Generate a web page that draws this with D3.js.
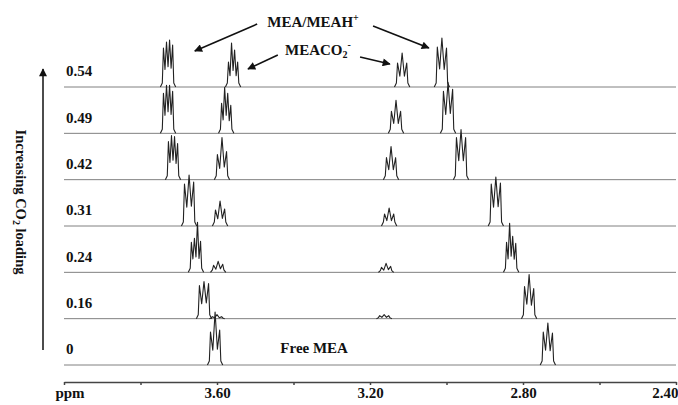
<!DOCTYPE html>
<html>
<head>
<meta charset="utf-8">
<script src="https://cdn.jsdelivr.net/npm/d3@7"></script>
<style>
  body { margin: 0; background: #fff; }
  svg { display: block; font-family: "Liberation Serif", "Times New Roman", serif; }
</style>
</head>
<body>
<div class="chart"></div>
<script>
var width = 678, height = 405;

// CO2 loading of each spectrum, top to bottom
var loadings = ['0.54', '0.49', '0.42', '0.31', '0.24', '0.16', '0'];

// multiplet centres (ppm) and line intensities, one entry per spectrum
var mea1Shift = [3.728, 3.728, 3.715, 3.673, 3.655, 3.634, 3.605];
var mea1Lines = [[39, 45, 47, 42], [40, 48, 48, 42], [38, 44, 43, 36], [42, 51, 44],
                 [30, 34, 50, 31], [33, 37, 35], [33, 53, 35]];
var carbAShift = [3.558, 3.576, 3.587, 3.592, 3.597, 3.600, null];
var carbALines = [[25, 44, 37, 25], [30, 46, 40, 28], [25, 42, 28], [16, 25, 17],
                  [7, 11, 8], [2, 4, 2], null];
var carbBShift = [3.116, 3.132, 3.145, 3.150, 3.158, 3.163, null];
var carbBLines = [[24, 34, 24], [22, 33, 22], [22, 33, 22], [12, 18, 12],
                  [5, 9, 6], [3, 4, 3], null];
var mea2Shift = [3.012, 2.996, 2.962, 2.871, 2.831, 2.784, 2.735];
var mea2Lines = [[40, 49, 39], [42, 51, 44], [42, 50, 42], [42, 49, 43],
                 [30, 49, 36, 29], [32, 44, 30], [33, 42, 32]];

var xTicks = [4.0, 3.8, 3.6, 3.4, 3.2, 3.0, 2.8, 2.6, 2.4];
var xLabels = [3.6, 3.2, 2.8, 2.4];

var multW = 0.024;   // width of a multiplet, ppm

var xScale = d3.scaleLinear().domain([4.0, 2.4]).range([64, 676]);
var yBase = d3.scalePoint().domain(loadings).range([87, 365]);
var yInt = d3.scaleLinear().domain([0, 60]).range([0, -60]);

var line = d3.line()
    .x(d => xScale(d[0]))
    .y(d => yInt(d[1]));

// turns a multiplet into a path: foot, spikes, valleys, foot
function multiplet(centre, hs) {
  var n = hs.length;
  var step = multW / (n - 1);
  var foot = Math.min(4, 0.35 * d3.min(hs));
  var left = centre + multW / 2;
  var pts = [[left + 0.008, 0], [left + 0.003, foot]];
  hs.forEach(function(h, i) {
    var p = left - i * step;
    pts.push([p, h]);
    if (i < n - 1) pts.push([p - step / 2, Math.max(foot, 0.45 * Math.min(h, hs[i + 1]))]);
  });
  var right = centre - multW / 2;
  pts.push([right - 0.003, foot], [right - 0.008, 0]);
  return pts;
}

var svg = d3.select('div.chart').append('svg')
    .attr('width', width)
    .attr('height', height);

var defs = svg.append('defs');
defs.append('marker')
    .attr('id', 'head')
    .attr('viewBox', '0 0 10 10')
    .attr('refX', 9).attr('refY', 5)
    .attr('markerUnits', 'userSpaceOnUse')
    .attr('markerWidth', 11).attr('markerHeight', 8)
    .attr('orient', 'auto')
  .append('path')
    .attr('d', 'M0,0L10,5L0,10Z')
    .attr('fill', '#111');

// spectra
var traces = svg.selectAll('g.trace')
    .data(loadings).enter().append('g')
    .attr('class', 'trace')
    .attr('transform', d => 'translate(0,' + yBase(d) + ')');

traces.append('path')
    .attr('d', line([[4.0, 0], [2.4, 0]]))
    .attr('fill', 'none')
    .attr('stroke', '#808080')
    .attr('stroke-width', 1);

traces.each(function(d, i) {
  var g = d3.select(this);
  var sets = [[mea1Shift, mea1Lines], [carbAShift, carbALines],
              [carbBShift, carbBLines], [mea2Shift, mea2Lines]];
  sets.forEach(function(s) {
    if (s[0][i] == null) return;
    g.append('path')
        .attr('d', line(multiplet(s[0][i], s[1][i])))
        .attr('fill', 'none')
        .attr('stroke', '#222')
        .attr('stroke-width', 1.1)
        .attr('stroke-linejoin', 'round');
  });
});

traces.append('text')
    .attr('x', 66)
    .attr('y', -16)
    .attr('dy', '0.35em')
    .attr('font-size', 15)
    .attr('font-weight', 'bold')
    .attr('fill', '#111')
    .text(d => d);

// x axis
var axis = svg.append('g')
    .attr('transform', 'translate(0,382)')
    .call(d3.axisBottom(xScale)
          .tickValues(xTicks)
          .tickSize(3)
          .tickSizeOuter(0)
          .tickPadding(2)
          .tickFormat(d => xLabels.indexOf(d) >= 0 ? d.toFixed(2) : ''));
axis.select('.domain').attr('stroke', '#444').attr('stroke-width', 1.5);
axis.selectAll('.tick line').attr('stroke', '#444').attr('stroke-width', 1.5);
axis.selectAll('.tick text')
    .attr('font-size', 15)
    .attr('font-weight', 'bold')
    .attr('font-family', '"Liberation Serif", serif')
    .attr('fill', '#111');
// last label sits flush with the right edge
axis.selectAll('.tick text')
    .filter(d => d === 2.4)
    .attr('text-anchor', 'end')
    .attr('x', 2);

svg.append('text')
    .attr('x', xScale(4.0) + 6)
    .attr('y', 398)
    .attr('text-anchor', 'middle')
    .attr('font-size', 15)
    .attr('font-weight', 'bold')
    .attr('fill', '#111')
    .text('ppm');

// loading arrow and title
svg.append('line')
    .attr('x1', 43).attr('x2', 43)
    .attr('y1', yBase('0') - 15)
    .attr('y2', yBase('0.54') - 18)
    .attr('stroke', '#111')
    .attr('stroke-width', 1.5)
    .attr('marker-end', 'url(#head)');

var yt = svg.append('text')
    .attr('transform', 'translate(16,' + (yBase('0.31') - 24) + ') rotate(90)')
    .attr('text-anchor', 'middle')
    .attr('font-size', 14.5)
    .attr('font-weight', 'bold')
    .attr('fill', '#111');
yt.append('tspan').text('Increasing CO');
yt.append('tspan').attr('font-size', 10).attr('dy', 3).text('2');
yt.append('tspan').attr('dy', -3).text(' loading');

// peak annotations, placed in ppm / intensity of the top spectrum
var top0 = yBase('0.54');
function ay(v) { return top0 + yInt(v); }

var t1 = svg.append('text')
    .attr('x', xScale(3.349)).attr('y', ay(60))
    .attr('text-anchor', 'middle')
    .attr('font-size', 15).attr('font-weight', 'bold').attr('fill', '#111');
t1.append('tspan').text('MEA/MEAH');
t1.append('tspan').attr('font-size', 10).attr('dy', -6).text('+');

var t2 = svg.append('text')
    .attr('x', xScale(3.336)).attr('y', ay(32))
    .attr('text-anchor', 'middle')
    .attr('font-size', 15).attr('font-weight', 'bold').attr('fill', '#111');
t2.append('tspan').text('MEACO');
t2.append('tspan').attr('font-size', 10).attr('dy', 3).text('2');
t2.append('tspan').attr('font-size', 10).attr('dy', -10).text('-');

var arrows = [
  [[3.495, 63], [3.658, 36]],
  [[3.192, 61], [3.046, 39]],
  [[3.441, 32], [3.519, 18]],
  [[3.226, 30], [3.148, 23]]
];
svg.selectAll('line.anno')
    .data(arrows).enter().append('line')
    .attr('class', 'anno')
    .attr('x1', d => xScale(d[0][0])).attr('y1', d => ay(d[0][1]))
    .attr('x2', d => xScale(d[1][0])).attr('y2', d => ay(d[1][1]))
    .attr('stroke', '#111')
    .attr('stroke-width', 1.6)
    .attr('marker-end', 'url(#head)');

svg.append('text')
    .attr('x', xScale(3.346))
    .attr('y', yBase('0') + yInt(12))
    .attr('text-anchor', 'middle')
    .attr('font-size', 15).attr('font-weight', 'bold').attr('fill', '#111')
    .text('Free MEA');
</script>
</body>
</html>
